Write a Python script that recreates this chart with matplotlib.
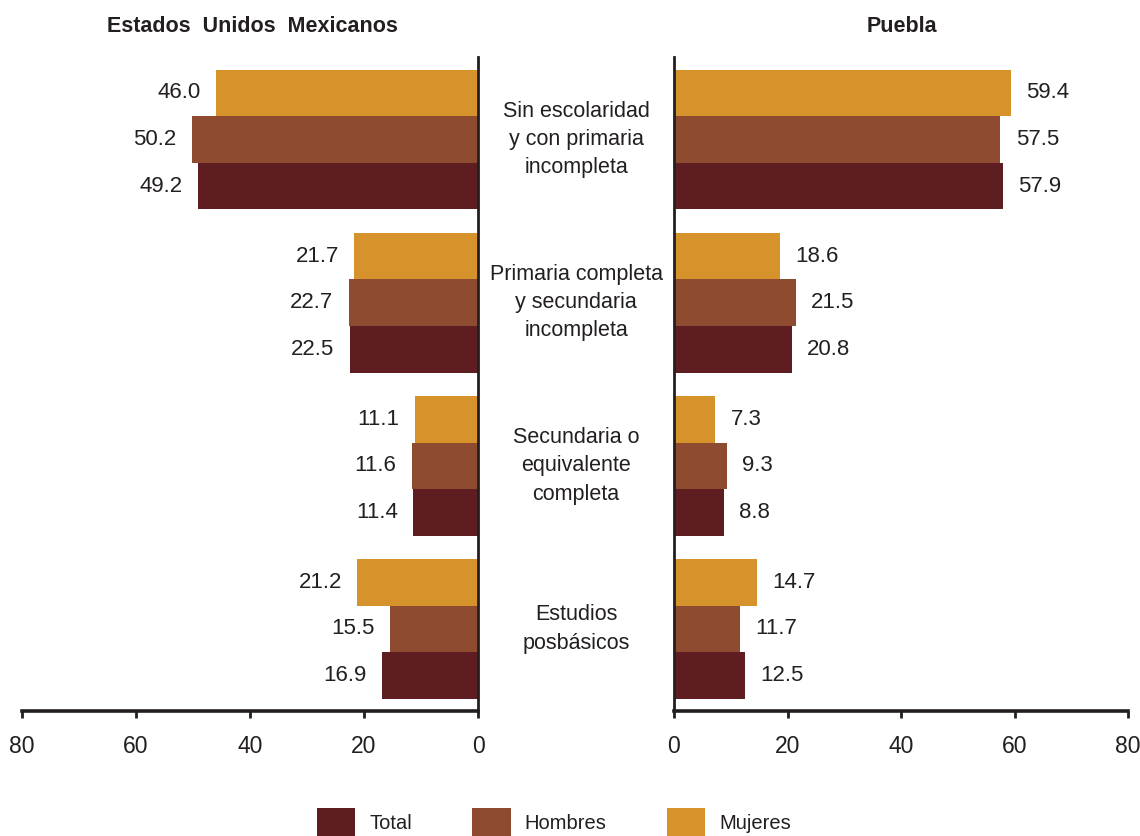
import numpy as np
import matplotlib
matplotlib.use("Agg")
from matplotlib import pyplot as plt
from matplotlib.patches import Patch
from matplotlib.transforms import blended_transform_factory

categories = ["Sin escolaridad\ny con primaria\nincompleta",
              "Primaria completa\ny secundaria\nincompleta",
              "Secundaria o\nequivalente\ncompleta",
              "Estudios\nposbásicos"]
series = ["Total", "Hombres", "Mujeres"]
colors = ["#5e1d21", "#8e4b2f", "#d6922b"]

# Estados Unidos Mexicanos
nac_total = [49.2, 22.5, 11.4, 16.9]
nac_hombres = [50.2, 22.7, 11.6, 15.5]
nac_mujeres = [46.0, 21.7, 11.1, 21.2]

# Puebla
pue_total = [57.9, 20.8, 8.8, 12.5]
pue_hombres = [57.5, 21.5, 9.3, 11.7]
pue_mujeres = [59.4, 18.6, 7.3, 14.7]

ticks = [0, 20, 40, 60, 80]
txt = "#231f20"

plt.rcParams["font.family"] = ["Liberation Sans", "DejaVu Sans"]
plt.rcParams["text.color"] = txt

fig = plt.figure(figsize=(11.4, 8.36), dpi=100)
ax_l = fig.add_axes([22 / 1140, 125 / 836, 456 / 1140, 654 / 836])
ax_r = fig.add_axes([674 / 1140, 125 / 836, 454 / 1140, 654 / 836])

base = -np.arange(len(categories)) * 3.5
# mujeres on top, then hombres, then total
ypos = {"Mujeres": base, "Hombres": base - 1, "Total": base - 2}


def draw(ax, data, side):
    for name, col in zip(series, colors):
        vals = data[name]
        ax.barh(ypos[name], vals, height=1.0, color=col, edgecolor="none")
        for y, v in zip(ypos[name], vals):
            off = -11 if side == "left" else 11
            ax.annotate("%.1f" % v, (v, y), xytext=(off, 0), textcoords="offset points",
                        ha="right" if side == "left" else "left", va="center",
                        fontsize=16, color=txt)
    ax.set_ylim(-13.26, 0.77)
    if side == "left":
        ax.set_xlim(80, 0)
        ax.spines["left"].set_visible(False)
        ax.spines["right"].set_linewidth(2)
    else:
        ax.set_xlim(0, 80)
        ax.spines["right"].set_visible(False)
        ax.spines["left"].set_linewidth(2)
    ax.spines["top"].set_visible(False)
    ax.spines["bottom"].set_linewidth(2.6)
    for s in ax.spines.values():
        s.set_color(txt)
    ax.set_yticks([])
    ax.set_xticks(ticks)
    ax.set_xticklabels([str(t) for t in ticks],
                       fontfamily=["Liberation Sans Narrow", "Liberation Sans"])
    ax.tick_params(axis="x", length=5, width=2, color=txt, pad=12, labelsize=16.5, labelcolor=txt)


draw(ax_l, {"Total": nac_total, "Hombres": nac_hombres, "Mujeres": nac_mujeres}, "left")
draw(ax_r, {"Total": pue_total, "Hombres": pue_hombres, "Mujeres": pue_mujeres}, "right")

trans = blended_transform_factory(fig.transFigure, ax_l.transData)
for cat, y in zip(categories, ypos["Hombres"]):
    ax_l.text(576 / 1140, y, cat, transform=trans, ha="center", va="center",
              fontsize=15.5, linespacing=1.45, color=txt)

fig.text(252 / 1140, 1 - 26 / 836, "Estados  Unidos  Mexicanos", ha="center", va="center",
         fontsize=15.5, fontweight="bold")
fig.text(902 / 1140, 1 - 26 / 836, "Puebla", ha="center", va="center",
         fontsize=15.5, fontweight="bold")

handles = [Patch(facecolor=c, edgecolor="none") for c in colors]
fig.legend(handles, series, loc="center", bbox_to_anchor=(554 / 1140, 1 - 823 / 836),
           ncol=3, frameon=False, fontsize=14.5, handlelength=1.9, handleheight=1.9,
           handletextpad=0.7, columnspacing=3.0, borderpad=0)

fig.savefig("out.png", dpi=100)
